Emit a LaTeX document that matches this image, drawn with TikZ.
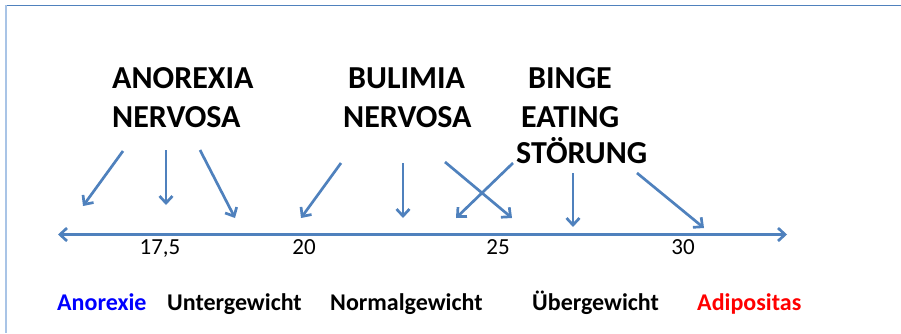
\documentclass[tikz,border=0pt]{standalone}
\usepackage{fontspec}
\setmainfont{Carlito}
\usetikzlibrary{arrows.meta}
\definecolor{arrblue}{HTML}{4F81BD}
\definecolor{frameblue}{HTML}{4F81BD}
\definecolor{leftblue}{HTML}{A9C4E6}
\tikzset{
  title/.style={font=\fontsize{32}{32}\selectfont\bfseries, anchor=base west, inner sep=0pt},
  tick/.style={font=\fontsize{23}{23}\selectfont, anchor=base, inner sep=0pt},
  cat/.style={font=\fontsize{24}{24}\selectfont\bfseries, anchor=base west, inner sep=0pt},
  pointer/.style={draw=arrblue, line width=2.7pt, -{Straight Barb[length=7pt,width=13pt,line width=2.7pt]}},
  axis/.style={draw=arrblue, line width=2.7pt, {Straight Barb[length=7pt,width=13pt,line width=2.7pt]}-{Straight Barb[length=7pt,width=13pt,line width=2.7pt]}}
}
\begin{document}
\begin{tikzpicture}[x=1pt,y=-1pt]
\useasboundingbox (0,0) rectangle (901,333);
% frame
\draw[frameblue, line width=1.2pt] (5,5.5) -- (901,5.5);
\draw[leftblue, line width=2pt] (6,5) -- (6,333);
% titles
\node[title] (an1) at (112,88) {ANOREXIA};
\node[title] (an2) at (112,127) {NERVOSA};
\node[title] (bu1) at (348,88) {BULIMIA};
\node[title] (bu2) at (343,127) {NERVOSA};
\node[title] (bi1) at (528,88) {BINGE};
\node[title] (bi2) at (521,127) {EATING};
\node[title] (bi3) at (516,163) {STÖRUNG};
% axis
\coordinate (axL) at (58,234.5);
\coordinate (axR) at (787,234.5);
\draw[axis] (axL) -- (axR);
% arrow coordinates
\coordinate (s1) at (123,151); \coordinate (e1) at (83,206);
\coordinate (s2) at (166,150); \coordinate (e2) at (166,205);
\coordinate (s3) at (200,150); \coordinate (e3) at (235,218);
\coordinate (s4) at (341,163); \coordinate (e4) at (301,218);
\coordinate (s5) at (403,163); \coordinate (e5) at (403,218);
\coordinate (s6) at (445,162); \coordinate (e6) at (512,218);
\coordinate (s7) at (513,163); \coordinate (e7) at (456,218);
\coordinate (s8) at (573,173); \coordinate (e8) at (573,227);
\coordinate (s9) at (637,173); \coordinate (e9) at (704,228);
\foreach \i in {1,...,9} {\draw[pointer] (s\i) -- (e\i);}
% ticks
\node[tick] (t175) at (160,254) {17,5};
\node[tick] (t20) at (304,254) {20};
\node[tick] (t25) at (498,254) {25};
\node[tick] (t30) at (683,254) {30};
% categories
\node[cat, text={rgb,255:red,0;green,0;blue,255}] (c1) at (57,310) {Anorexie};
\node[cat] (c2) at (167,310) {Untergewicht};
\node[cat] (c3) at (330,310) {Normalgewicht};
\node[cat] (c4) at (532,310) {Übergewicht};
\node[cat, text={rgb,255:red,255;green,0;blue,0}] (c5) at (697,310) {Adipositas};
\end{tikzpicture}
\end{document}
